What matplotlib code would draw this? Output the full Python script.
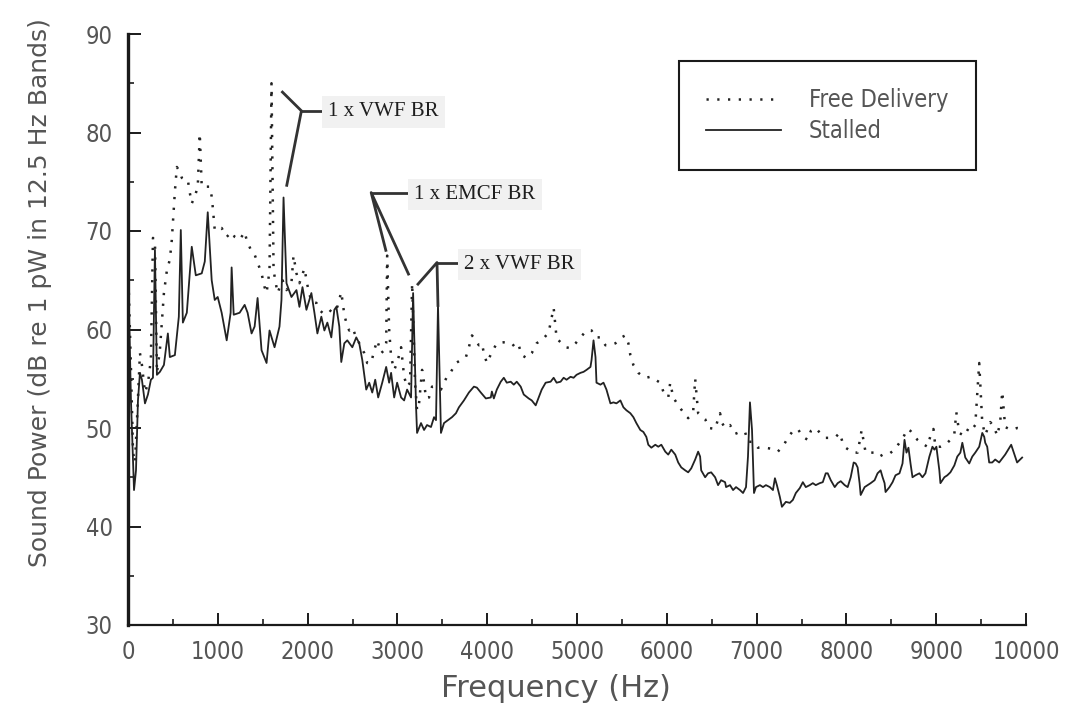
import matplotlib
matplotlib.use("Agg")
import matplotlib.pyplot as plt
from matplotlib.ticker import MultipleLocator

# ---------------- data ----------------
free_freq = [0, 33, 56, 78, 111, 133, 155, 189, 222, 255, 278, 300, 322, 355, 377, 400, 433, 466, 488, 522,
             544, 577, 599, 633, 666, 688, 710, 744, 777, 799, 821, 877, 910, 932, 944, 966, 999, 1043, 1099, 1154,
             1188, 1243, 1299, 1321, 1376, 1410, 1443, 1487, 1521, 1543, 1576, 1598, 1621, 1665, 1721, 1765, 1820, 1843, 1876, 1909,
             1965, 1998, 2042, 2098, 2131, 2165, 2209, 2242, 2276, 2331, 2375, 2409, 2442, 2464, 2498, 2542, 2575, 2631, 2664, 2708,
             2742, 2775, 2819, 2853, 2875, 2886, 2908, 2930, 2964, 2997, 3041, 3075, 3108, 3141, 3164, 3197, 3219, 3241, 3275, 3297,
             3319, 3352, 3386, 3430, 3485, 3519, 3552, 3596, 3652, 3707, 3763, 3796, 3830, 3874, 3907, 3941, 3963, 3996, 4052, 4107,
             4185, 4240, 4274, 4318, 4351, 4385, 4440, 4496, 4551, 4629, 4684, 4740, 4773, 4817, 4873, 4928, 4984, 5039, 5106, 5162,
             5206, 5261, 5317, 5372, 5428, 5495, 5539, 5572, 5594, 5628, 5683, 5739, 5772, 5816, 5872, 5927, 5961, 6016, 6038, 6072,
             6127, 6183, 6238, 6294, 6316, 6349, 6427, 6471, 6538, 6571, 6593, 6616, 6649, 6704, 6760, 6815, 6871, 6904, 6960, 7015,
             7093, 7160, 7237, 7304, 7348, 7404, 7459, 7515, 7570, 7604, 7659, 7715, 7770, 7826, 7881, 7925, 7959, 7992, 8070, 8125,
             8170, 8214, 8314, 8369, 8425, 8480, 8536, 8591, 8636, 8680, 8714, 8791, 8847, 8902, 8936, 8969, 8991, 9047, 9102, 9158,
             9202, 9224, 9257, 9313, 9368, 9402, 9435, 9479, 9513, 9546, 9602, 9646, 9679, 9713, 9735, 9768, 9835, 9901, 9968]
free_db = [67.0, 56.0, 47.5, 46.5, 53.0, 57.6, 56.4, 53.6, 54.5, 57.0, 69.3, 69.0, 55.6, 57.9, 60.7, 63.7, 66.0, 67.1, 69.1, 74.0,
           76.5, 76.0, 75.4, 75.2, 75.2, 73.9, 72.8, 73.5, 74.5, 79.9, 74.5, 74.5, 74.5, 73.5, 72.4, 70.1, 70.3, 70.3, 69.4, 69.9,
           69.4, 69.1, 69.9, 69.1, 67.9, 67.6, 66.8, 65.7, 64.3, 63.7, 66.0, 85.0, 66.0, 63.7, 65.0, 64.0, 64.7, 67.5, 65.7, 64.7,
           66.2, 64.5, 62.8, 62.7, 62.0, 61.7, 61.7, 62.0, 61.7, 62.3, 63.8, 61.5, 60.3, 59.9, 60.2, 59.2, 58.6, 57.6, 56.6, 56.6,
           57.9, 58.9, 57.6, 57.9, 58.6, 67.5, 60.0, 57.2, 55.9, 56.6, 58.2, 55.2, 54.2, 54.6, 64.7, 54.5, 51.8, 52.5, 55.9, 54.6,
           53.0, 53.1, 54.2, 54.2, 53.9, 54.6, 55.2, 55.7, 56.6, 56.9, 57.2, 58.2, 59.4, 58.9, 58.4, 58.6, 57.6, 56.6, 57.7, 58.6,
           58.7, 58.7, 58.6, 58.1, 58.4, 57.4, 57.1, 57.6, 58.6, 59.1, 59.7, 62.2, 59.1, 58.7, 58.2, 58.1, 58.6, 59.2, 59.9, 59.9,
           59.2, 59.2, 58.4, 58.4, 58.6, 59.2, 59.4, 58.6, 57.4, 56.4, 55.6, 55.2, 55.1, 55.2, 54.9, 54.6, 53.7, 53.1, 54.6, 53.1,
           52.3, 51.6, 51.0, 51.7, 55.0, 51.5, 50.9, 50.0, 49.9, 50.9, 51.5, 50.5, 50.0, 50.3, 49.4, 49.6, 49.6, 48.6, 48.6, 48.0,
           48.0, 47.9, 47.6, 48.3, 49.0, 49.7, 49.9, 49.1, 48.8, 49.7, 50.0, 49.4, 49.0, 49.0, 49.1, 49.5, 48.5, 48.0, 47.5, 47.5,
           49.8, 47.5, 47.5, 47.1, 47.4, 47.4, 47.8, 48.5, 49.1, 49.9, 49.7, 48.8, 48.4, 48.1, 49.2, 49.9, 48.1, 48.1, 48.3, 48.8,
           49.4, 51.6, 49.5, 49.2, 50.1, 49.9, 50.3, 56.6, 50.5, 49.3, 50.6, 50.1, 49.2, 50.6, 53.7, 50.1, 49.8, 50.0, 49.9]

stalled_freq = [0, 33, 67, 89, 111, 133, 155, 189, 222, 255, 278, 300, 322, 355, 400, 444, 466, 522, 566, 588,
                611, 655, 710, 755, 821, 855, 888, 932, 966, 999, 1043, 1099, 1143, 1154, 1177, 1243, 1299, 1332, 1376, 1410,
                1443, 1487, 1543, 1576, 1632, 1687, 1709, 1732, 1765, 1820, 1876, 1909, 1943, 1987, 2042, 2076, 2109, 2153, 2187, 2220,
                2264, 2298, 2320, 2353, 2375, 2409, 2442, 2498, 2542, 2575, 2609, 2653, 2686, 2720, 2753, 2786, 2831, 2875, 2908, 2930,
                2964, 2997, 3041, 3075, 3108, 3152, 3175, 3208, 3219, 3263, 3297, 3330, 3374, 3408, 3430, 3452, 3485, 3519, 3563, 3608,
                3652, 3685, 3741, 3796, 3852, 3885, 3929, 3985, 4040, 4052, 4074, 4107, 4151, 4185, 4218, 4262, 4296, 4329, 4373, 4407,
                4462, 4496, 4540, 4573, 4607, 4651, 4706, 4740, 4773, 4817, 4851, 4884, 4928, 4962, 4995, 5039, 5073, 5106, 5150, 5162,
                5184, 5206, 5217, 5261, 5295, 5328, 5372, 5406, 5439, 5483, 5517, 5550, 5594, 5628, 5661, 5705, 5739, 5772, 5794, 5828,
                5872, 5905, 5939, 5983, 6016, 6050, 6094, 6127, 6161, 6205, 6238, 6272, 6316, 6349, 6371, 6383, 6427, 6460, 6494, 6538,
                6571, 6605, 6649, 6660, 6704, 6738, 6771, 6815, 6849, 6882, 6904, 6926, 6949, 6971, 6993, 7037, 7071, 7104, 7148, 7182,
                7204, 7226, 7259, 7282, 7326, 7370, 7404, 7437, 7481, 7515, 7548, 7592, 7626, 7659, 7703, 7737, 7770, 7792, 7826, 7870,
                7903, 7937, 7981, 8014, 8048, 8081, 8103, 8125, 8147, 8159, 8203, 8236, 8270, 8314, 8347, 8381, 8403, 8425, 8436, 8480,
                8514, 8547, 8591, 8625, 8647, 8669, 8691, 8714, 8736, 8769, 8813, 8847, 8880, 8924, 8958, 8980, 9002, 9035, 9047, 9091,
                9124, 9158, 9202, 9235, 9269, 9291, 9313, 9324, 9368, 9402, 9435, 9479, 9513, 9535, 9546, 9568, 9590, 9624, 9657, 9701,
                9735, 9768, 9835, 9901, 9957]
stalled_db = [66.9, 52.8, 43.7, 45.7, 52.8, 55.6, 54.9, 52.5, 53.4, 54.9, 55.1, 68.1, 55.4, 55.7, 56.4, 59.6, 57.2, 57.4, 61.3, 70.1,
              60.7, 61.7, 68.4, 65.5, 65.7, 66.9, 71.9, 65.0, 63.0, 63.3, 61.7, 58.9, 61.7, 66.3, 61.5, 61.7, 62.5, 61.7, 59.6, 60.3,
              63.2, 57.9, 56.6, 59.9, 58.2, 60.3, 63.0, 73.4, 64.7, 63.3, 64.0, 62.3, 64.3, 62.0, 63.7, 61.7, 59.6, 61.3, 59.9, 60.7,
              59.2, 62.0, 62.3, 60.3, 56.7, 58.6, 58.9, 58.2, 59.2, 58.6, 56.9, 53.9, 54.6, 53.6, 54.9, 53.1, 54.6, 56.2, 54.6, 55.6,
              53.1, 54.6, 53.1, 52.8, 53.9, 53.1, 63.7, 52.1, 49.5, 50.5, 49.8, 50.3, 50.1, 51.1, 50.8, 62.5, 49.5, 50.5, 50.8, 51.1,
              51.5, 52.1, 52.8, 53.6, 54.2, 54.1, 53.6, 53.0, 53.1, 53.7, 53.0, 53.9, 54.7, 55.1, 54.6, 54.7, 54.4, 54.7, 54.2, 53.4,
              53.0, 52.8, 52.3, 53.1, 53.9, 54.6, 54.7, 55.1, 54.6, 54.7, 55.1, 54.9, 55.2, 55.1, 55.4, 55.6, 55.7, 55.9, 56.2, 56.9,
              58.9, 57.2, 54.6, 54.4, 54.6, 53.9, 52.5, 52.6, 52.5, 52.8, 52.1, 51.8, 51.5, 51.1, 50.5, 49.8, 49.6, 49.1, 48.3, 48.0,
              48.3, 48.1, 48.3, 47.6, 47.3, 47.8, 47.3, 46.5, 46.0, 45.7, 45.5, 45.9, 46.8, 47.6, 47.1, 45.7, 45.0, 45.4, 45.5, 45.0,
              44.2, 44.7, 44.5, 44.0, 44.2, 43.7, 44.0, 43.7, 43.4, 44.0, 47.1, 52.6, 49.8, 43.4, 44.0, 44.2, 44.0, 44.2, 44.0, 43.7,
              44.9, 44.2, 43.0, 42.0, 42.5, 42.4, 42.7, 43.4, 43.9, 44.5, 44.0, 44.2, 44.4, 44.2, 44.4, 44.5, 45.4, 45.4, 44.7, 44.0,
              44.4, 44.6, 44.2, 44.0, 45.0, 46.5, 46.4, 46.0, 44.4, 43.2, 44.0, 44.2, 44.4, 44.7, 45.4, 45.7, 45.0, 44.4, 43.5, 44.0,
              44.5, 45.2, 45.4, 46.4, 48.8, 47.5, 48.0, 46.4, 45.0, 45.2, 45.4, 45.0, 45.4, 47.1, 48.1, 47.8, 48.1, 45.7, 44.4, 45.0,
              45.2, 45.5, 46.2, 47.1, 47.5, 48.5, 47.5, 47.0, 46.4, 47.1, 47.5, 48.1, 49.5, 49.1, 48.5, 48.1, 46.5, 46.5, 46.8, 46.5,
              46.9, 47.3, 48.3, 46.5, 47.0]

series_labels = ["Free Delivery", "Stalled"]
x_ticks = [0, 1000, 2000, 3000, 4000, 5000, 6000, 7000, 8000, 9000, 10000]
y_ticks = [30, 40, 50, 60, 70, 80, 90]
x_label = "Frequency (Hz)"
y_label = "Sound Power (dB re 1 pW in 12.5 Hz Bands)"
annot_texts = ["1 x VWF BR", "1 x EMCF BR", "2 x VWF BR"]

# ---------------- figure ----------------
plt.rcParams['font.family'] = ['DejaVu Sans']
plt.rcParams['font.stretch'] = 'condensed'

W, H = 1067, 711
fig = plt.figure(figsize=(W / 100, H / 100), dpi=100)
fig.patch.set_facecolor('white')
ax = fig.add_axes([128 / W, 86 / H, 898 / W, 591 / H])

ink = '#222222'
ax.plot(free_freq, free_db, color=ink, lw=1.8, linestyle=(0, (0.9, 3.4)),
        dash_capstyle='butt', label=series_labels[0])
ax.plot(stalled_freq, stalled_db, color=ink, lw=1.3, label=series_labels[1])

ax.set_xlim(0, 10000)
ax.set_ylim(30, 90)
ax.set_xticks(x_ticks)
ax.set_yticks(y_ticks)
ax.xaxis.set_minor_locator(MultipleLocator(500))
ax.yaxis.set_minor_locator(MultipleLocator(5))

for s in ['top', 'right']:
    ax.spines[s].set_visible(False)
ax.spines['left'].set_linewidth(2.4)
ax.spines['bottom'].set_linewidth(1.6)
ax.spines['left'].set_color('#1a1a1a')
ax.spines['bottom'].set_color('#1a1a1a')

ax.tick_params(which='major', direction='in', length=9, width=1.4, color='#1a1a1a',
               labelsize=17, labelcolor='#555555', pad=11)
ax.tick_params(which='minor', direction='in', length=4.5, width=1.2, color='#1a1a1a')

ax.set_xlabel(x_label, fontsize=22, color='#555555', fontstretch='normal')
ax.set_ylabel(y_label, fontsize=18, color='#555555', fontstretch='normal')
ax.xaxis.set_label_coords(0.476, -0.083)
ax.yaxis.set_label_coords(-0.085, 0.563)

leg = ax.legend(loc='upper left', bbox_to_anchor=(0.6136, 0.9543), borderaxespad=0,
                fontsize=17, frameon=True, fancybox=False, framealpha=1,
                borderpad=1.15, labelspacing=0.3, handlelength=3.15, handletextpad=1.2)
leg.get_frame().set_edgecolor('#1a1a1a')
leg.get_frame().set_linewidth(1.5)
for t in leg.get_texts():
    t.set_color('#555555')

# ---------------- annotations with leader lines ----------------
tfont = dict(family='Liberation Serif', fontsize=15, color='#1e1e1e', va='center', ha='left',
             bbox=dict(boxstyle='square,pad=0.3', fc='#f1f1f1', ec='none'))
lk = dict(color='#333333', lw=2.0, solid_capstyle='butt', clip_on=False)

# 1 x VWF BR
ax.text(2230, 82.1, annot_texts[0], **tfont)
ax.plot([1931, 2190], [82.2, 82.2], **lk)
ax.plot([1709, 1931, 1765], [84.2, 82.2, 74.5], **lk)
# 1 x EMCF BR
ax.text(3185, 73.7, annot_texts[1], **tfont)
ax.plot([2708, 3150], [73.9, 73.9], **lk)
ax.plot([2875, 2708, 3130], [67.9, 73.9, 65.5], **lk)
# 2 x VWF BR
ax.text(3740, 66.6, annot_texts[2], **tfont)
ax.plot([3441, 3700], [66.8, 66.8], **lk)
ax.plot([3219, 3441, 3452], [64.5, 66.8, 62.3], **lk)

fig.savefig('out.png', dpi=100, facecolor='white')
